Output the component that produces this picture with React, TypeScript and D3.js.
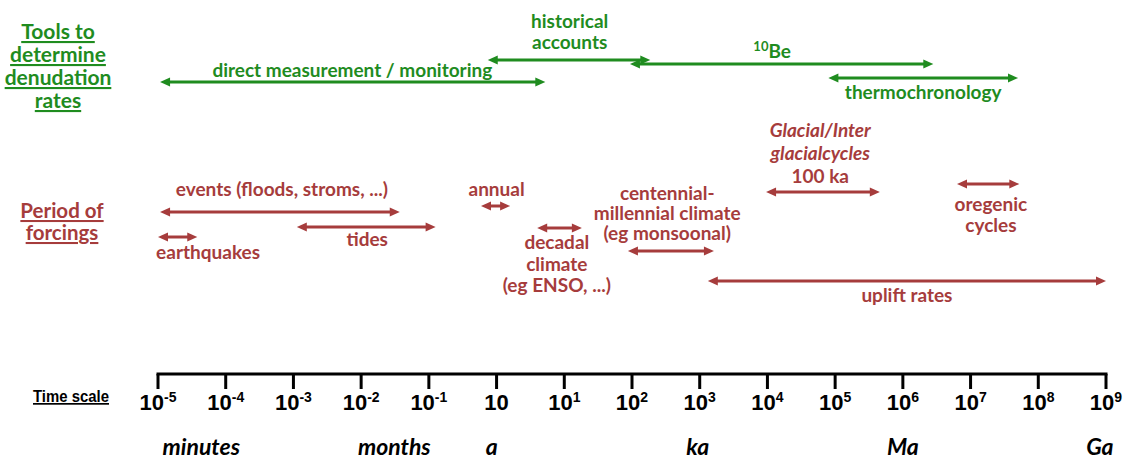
import React from "react";
import * as d3 from "d3";

// ---- data (time span exponents, log10 of years) ----
const toolNames = ["direct measurement / monitoring", "historical accounts", "10Be", "thermochronology"];
const toolStart = [-4.97, -0.13, 1.97, 4.9];
const toolEnd = [0.72, 2.27, 6.45, 7.7];

const forcingNames = [
  "events (floods, stroms, ...)",
  "earthquakes",
  "tides",
  "annual",
  "decadal climate (eg ENSO, ...)",
  "centennial-millennial climate (eg monsoonal)",
  "Glacial/Interglacial cycles 100 ka",
  "oregenic cycles",
  "uplift rates",
];
const forcingStart = [-4.97, -5.0, -2.95, -0.23, 0.6, 1.94, 3.98, 6.8, 3.12];
const forcingEnd = [-1.43, -4.42, -0.9, 0.2, 1.26, 3.21, 5.66, 7.72, 9.0];

const tickExponents = [-5, -4, -3, -2, -1, 0, 1, 2, 3, 4, 5, 6, 7, 8, 9];
const tickBase = ["10", "10", "10", "10", "10", "10", "10", "10", "10", "10", "10", "10", "10", "10", "10"];
const tickSup = ["-5", "-4", "-3", "-2", "-1", "", "1", "2", "3", "4", "5", "6", "7", "8", "9"];

const unitNames = ["minutes", "months", "a", "ka", "Ma", "Ga"];
const unitExponents = [-4.36, -1.51, -0.07, 2.97, 6.0, 8.91];

// ---- layout ----
const GREEN = "#1f8c1f";
const RED = "#a63c3c";
const FONT = "Lato, 'Open Sans', sans-serif";
const AXFONT = "'Liberation Sans', Arial, sans-serif";
const LBL = 19;

const toolY = [82, 60, 64, 78];
type Lbl = { e: number; ys: number[]; lines: string[]; italic?: boolean[]; sup?: boolean };
const toolLabels: Lbl[] = [
  { e: -2.13, ys: [77], lines: ["direct measurement / monitoring"] },
  { e: 1.08, ys: [28, 49], lines: ["historical", "accounts"] },
  { e: 4.07, ys: [58], lines: ["Be"], sup: true },
  { e: 6.3, ys: [99], lines: ["thermochronology"] },
];
const forcingY = [212, 237, 227, 206, 228, 251, 192, 184, 281];
const forcingLabels: Lbl[] = [
  { e: -3.17, ys: [196], lines: ["events (floods, stroms, ...)"] },
  { e: -4.26, ys: [259], lines: ["earthquakes"] },
  { e: -1.91, ys: [246], lines: ["tides"] },
  { e: 0.0, ys: [196], lines: ["annual"] },
  { e: 0.89, ys: [249, 271, 292], lines: ["decadal", "climate", "(eg ENSO, ...)"] },
  { e: 2.52, ys: [200, 220, 240], lines: ["centennial-", "millennial climate", "(eg monsoonal)"] },
  { e: 4.78, ys: [137, 160, 183], lines: ["Glacial/Inter", "glacialcycles", "100 ka"], italic: [true, true, false] },
  { e: 7.3, ys: [211, 232], lines: ["oregenic", "cycles"] },
  { e: 6.06, ys: [302], lines: ["uplift rates"] },
];

const x = d3.scaleLinear().domain([-5, 9]).range([158, 1106]);

function Arrow({ x1, x2, y, color }: { x1: number; x2: number; y: number; color: string }) {
  const hl = 10, hw = 4.5;
  return (
    <g>
      <line x1={x1 + hl - 1} x2={x2 - hl + 1} y1={y} y2={y} stroke={color} strokeWidth={3} />
      <polygon points={`${x1},${y} ${x1 + hl},${y - hw} ${x1 + hl},${y + hw}`} fill={color} />
      <polygon points={`${x2},${y} ${x2 - hl},${y - hw} ${x2 - hl},${y + hw}`} fill={color} />
    </g>
  );
}

function Labels({ l, color }: { l: Lbl; color: string }) {
  return (
    <g>
      {l.lines.map((t, k) => (
        <text
          key={k}
          x={x(l.e)}
          y={l.ys[k]}
          textAnchor="middle"
          fill={color}
          fontFamily={FONT}
          fontWeight="bold"
          fontStyle={l.italic && l.italic[k] ? "italic" : "normal"}
          fontSize={LBL}
        >
          {l.sup ? (
            <>
              <tspan fontSize={13} dy={-7}>10</tspan>
              <tspan dy={7}>{t}</tspan>
            </>
          ) : (
            t
          )}
        </text>
      ))}
    </g>
  );
}

export default function App() {
  const axisY = 374;
  return (
    <svg width={1133} height={460} style={{ position: "absolute", left: 0, top: 0, background: "#fff" }}>
      <rect width={1133} height={460} fill="#fff" />
      {/* left headings */}
      {["Tools to", "determine", "denudation", "rates"].map((t, k) => (
        <text key={k} x={58} y={39 + k * 23} textAnchor="middle" fill={GREEN} fontFamily={FONT} fontWeight="bold" fontSize={21} textDecoration="underline">
          {t}
        </text>
      ))}
      {["Period of", "forcings"].map((t, k) => (
        <text key={k} x={62} y={218 + k * 22} textAnchor="middle" fill={RED} fontFamily={FONT} fontWeight="bold" fontSize={20.5} textDecoration="underline">
          {t}
        </text>
      ))}

      {/* tool arrows */}
      {toolNames.map((n, i) => (
        <g key={n}>
          <Arrow x1={x(toolStart[i])} x2={x(toolEnd[i])} y={toolY[i]} color={GREEN} />
          <Labels l={toolLabels[i]} color={GREEN} />
        </g>
      ))}

      {/* forcing arrows */}
      {forcingNames.map((n, i) => (
        <g key={n}>
          <Arrow x1={x(forcingStart[i])} x2={x(forcingEnd[i])} y={forcingY[i]} color={RED} />
          <Labels l={forcingLabels[i]} color={RED} />
        </g>
      ))}

      {/* time axis */}
      <text x={33} y={402} fill="#000" fontFamily={AXFONT} fontWeight="bold" fontSize={17} textDecoration="underline" textLength={76} lengthAdjust="spacingAndGlyphs">
        Time scale
      </text>
      <line x1={x(-5) - 1.5} x2={x(9) + 1.5} y1={axisY} y2={axisY} stroke="#000" strokeWidth={3} />
      {tickExponents.map((e, i) => (
        <g key={e}>
          <line x1={x(e)} x2={x(e)} y1={axisY} y2={axisY + 15} stroke="#000" strokeWidth={3} />
          <text x={x(e)} y={410} textAnchor="middle" fill="#000" fontFamily={AXFONT} fontWeight="bold" fontSize={22}>
            {tickBase[i]}
            {tickSup[i] && (
              <tspan fontSize={14} dy={-8}>
                {tickSup[i]}
              </tspan>
            )}
          </text>
        </g>
      ))}
      {unitNames.map((u, i) => (
        <text key={u} x={x(unitExponents[i])} y={455} textAnchor="middle" fill="#000" fontFamily={FONT} fontWeight="bold" fontStyle="italic" fontSize={23}>
          {u}
        </text>
      ))}
    </svg>
  );
}
